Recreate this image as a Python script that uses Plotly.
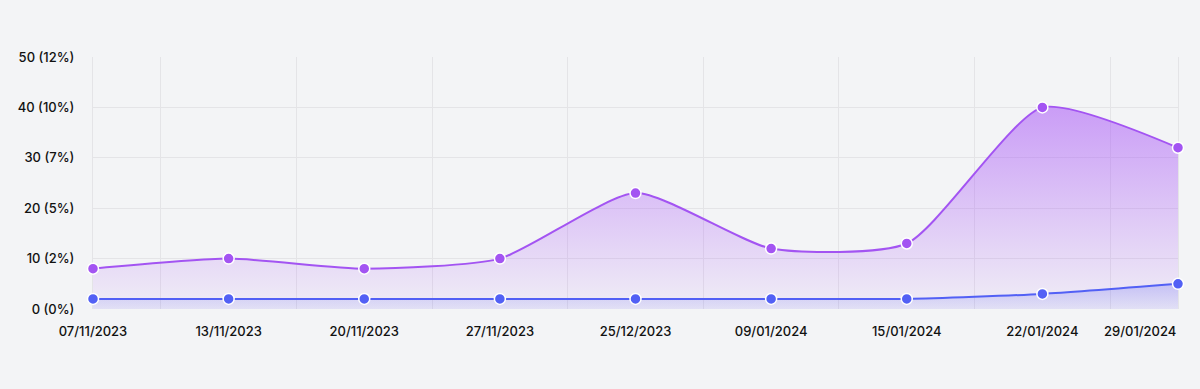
import plotly.graph_objects as go

dates = ["07/11/2023", "13/11/2023", "20/11/2023", "27/11/2023", "25/12/2023",
         "09/01/2024", "15/01/2024", "22/01/2024", "29/01/2024"]
purple_vals = [8, 10, 8, 10, 23, 12, 13, 40, 32]
blue_vals = [2, 2, 2, 2, 2, 2, 2, 3, 5]
y_tickvals = [0, 10, 20, 30, 40, 50]
y_ticktext = ["0 (0%)", "10 (2%)", "20 (5%)", "30 (7%)", "40 (10%)", "50 (12%)"]

x = list(range(len(dates)))
BG = "#f3f4f6"
GRID = "#e4e4e7"
PURPLE = "#a354f2"
BLUE = "#5260f5"
FONT = dict(family="Inter, Roboto, sans-serif", size=13, color="#111111", weight=500)

fig = go.Figure()
fig.add_trace(go.Scatter(
    x=x, y=purple_vals, mode="lines+markers",
    line=dict(color=PURPLE, width=2, shape="spline", smoothing=0.6),
    marker=dict(size=11, color=PURPLE, line=dict(color="white", width=1.5)),
    fill="tozeroy",
    fillgradient=dict(type="vertical",
                      colorscale=[[0, "rgba(168,85,247,0.04)"], [1, "rgba(168,85,247,0.55)"]]),
    cliponaxis=False, showlegend=False, hoverinfo="skip",
))
fig.add_trace(go.Scatter(
    x=x, y=blue_vals, mode="lines+markers",
    line=dict(color=BLUE, width=2, shape="spline", smoothing=0.6),
    marker=dict(size=11, color=BLUE, line=dict(color="white", width=1.5)),
    fill="tozeroy",
    fillgradient=dict(type="vertical",
                      colorscale=[[0, "rgba(99,102,241,0.10)"], [1, "rgba(99,102,241,0.28)"]]),
    cliponaxis=False, showlegend=False, hoverinfo="skip",
))

fig.update_layout(
    width=1200, height=389,
    margin=dict(l=93, r=22, t=57, b=80),
    paper_bgcolor=BG, plot_bgcolor=BG,
    font=FONT,
    xaxis=dict(
        range=[0, len(dates) - 1], tickvals=x[:-1], ticktext=dates[:-1],
        showgrid=False, zeroline=False, showline=False, automargin=False,
        ticklabelstandoff=13, layer="below traces",
        minor=dict(tickvals=[i + 0.5 for i in x[:-1]], showgrid=True, gridcolor=GRID, gridwidth=1),
    ),
    yaxis=dict(
        range=[0, 50], tickvals=y_tickvals, ticktext=y_ticktext,
        showgrid=True, gridcolor=GRID, gridwidth=1, zeroline=False,
        showline=True, mirror=True, linecolor=GRID, linewidth=1,
        ticklabelstandoff=15, automargin=False, layer="below traces",
    ),
)
fig.add_annotation(
    x=x[-1], y=0, xref="x", yref="y", text=dates[-1], showarrow=False,
    xanchor="right", yanchor="top", yshift=-12,
    font=FONT,
)
fig.write_html(
    "out.html",
    config={"displayModeBar": False},
    post_script="document.body.style.margin='0';document.body.style.background='#f3f4f6';",
)
